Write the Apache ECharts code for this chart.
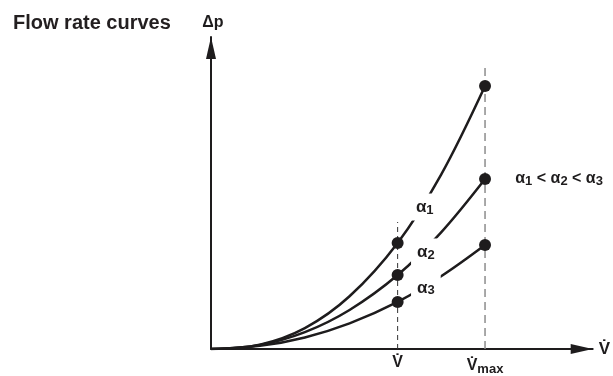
<!DOCTYPE html>
<html>
<head>
<meta charset="utf-8">
<script src="https://cdn.jsdelivr.net/npm/echarts@6/dist/echarts.min.js"></script>
<style>
  html, body { margin: 0; padding: 0; background: #fff; }
  #chart { width: 613px; height: 376px; }
</style>
</head>
<body>
<div id="chart"></div>
<script>
// flow (arbitrary units along the V axis)
const flow = [0, 12.8, 24.6, 36.3, 48.9, 60.3, 71.8];
// pressure drop for each damper angle
const alpha1 = [0, 1.4, 6.7, 16.9, 34.0, 55.9, 84.3];
const alpha2 = [0, 1.3, 5.4, 12.5, 23.7, 37.4, 54.5];
const alpha3 = [0, 1.0, 3.7, 8.2, 15.1, 23.3, 33.3];
// operating flow and maximum flow
const vFlow = 48.9;
const vMax = 71.8;
const vTop = 40.7;
const vMaxTop = 91;
// curve labels [x, y, text]
const curveLabels = [
  [56.0, 45.5, '{a|α}{s|1}'],
  [56.3, 31.1, '{a|α}{s|2}'],
  [56.3, 19.6, '{a|α}{s|3}']
];
const orderLabel = [91.2, 54.5];

const ink = '#1e1c1d';
const font = 'Liberation Sans, Arial, Helvetica, sans-serif';

function pairs(ys) {
  return flow.map((x, i) => [x, ys[i]]);
}

const dots = [];
[alpha1, alpha2, alpha3].forEach((ys) => {
  dots.push([vFlow, ys[4]]);
  dots.push([vMax, ys[6]]);
});

const curveStyle = { color: ink, width: 2.5 };

const chart = echarts.init(document.getElementById('chart'));
chart.setOption({
  animation: false,
  title: {
    text: 'Flow rate curves',
    left: 8,
    top: 8,
    textStyle: { fontFamily: font, fontSize: 20, fontWeight: 'bold', color: '#231f20' }
  },
  grid: { left: 211, right: 16, top: 37, bottom: 27 },
  xAxis: {
    type: 'value',
    min: 0,
    max: 100,
    name: 'V̇',
    nameLocation: 'end',
    nameGap: 6,
    nameTextStyle: { fontFamily: font, fontSize: 17, fontWeight: 'bold', color: ink },
    splitLine: { show: false },
    axisTick: { show: false },
    axisLine: {
      lineStyle: { color: ink, width: 2 },
      symbol: ['none', 'triangle'],
      symbolSize: [10, 22],
      symbolOffset: [0, -11]
    },
    axisLabel: {
      customValues: [vFlow, vMax],
      margin: 6,
      formatter: (v) => (v === vFlow ? '{v|V̇}' : '{v|V̇}{s|max}'),
      rich: {
        v: { fontFamily: font, fontSize: 16, fontWeight: 'bold', color: ink },
        s: { fontFamily: font, fontSize: 13, fontWeight: 'bold', color: ink, padding: [8, 0, 0, 0] }
      }
    }
  },
  yAxis: {
    type: 'value',
    min: 0,
    max: 100,
    name: 'Δp',
    nameLocation: 'end',
    nameGap: 6,
    nameTextStyle: { fontFamily: font, fontSize: 16, fontWeight: 'bold', color: ink, align: 'center', padding: [0, 0, 0, 4] },
    splitLine: { show: false },
    axisTick: { show: false },
    axisLabel: { show: false },
    axisLine: {
      lineStyle: { color: ink, width: 2 },
      symbol: ['none', 'triangle'],
      symbolSize: [10, 22],
      symbolOffset: [0, -11]
    }
  },
  series: [
    {
      type: 'line',
      data: [[vFlow, 0], [vFlow, vTop]],
      showSymbol: false,
      lineStyle: { color: '#333', width: 1, type: [5, 4] },
      z: 1
    },
    {
      type: 'line',
      data: [[vMax, 0], [vMax, vMaxTop]],
      showSymbol: false,
      lineStyle: { color: '#8c8c8c', width: 1.5, type: [8, 5] },
      z: 1
    },
    { type: 'line', data: pairs(alpha1), smooth: 0.35, showSymbol: false, lineStyle: curveStyle, z: 2 },
    { type: 'line', data: pairs(alpha2), smooth: 0.35, showSymbol: false, lineStyle: curveStyle, z: 2 },
    { type: 'line', data: pairs(alpha3), smooth: 0.35, showSymbol: false, lineStyle: curveStyle, z: 2 },
    {
      type: 'scatter',
      data: dots,
      symbolSize: 12,
      itemStyle: { color: ink, opacity: 1 },
      z: 4
    },
    {
      type: 'scatter',
      data: curveLabels.map((d) => ({ value: [d[0], d[1]], name: d[2] })),
      symbolSize: 0,
      clip: false,
      z: 5,
      itemStyle: { opacity: 1 },
      label: {
        show: true,
        position: 'inside',
        formatter: (p) => p.name,
        backgroundColor: '#fff',
        padding: [4, 6, 4, 6],
        rich: {
          a: { fontFamily: font, fontSize: 17, fontWeight: 'bold', color: ink },
          s: { fontFamily: font, fontSize: 13, fontWeight: 'bold', color: ink, padding: [6, 0, 0, 0] }
        }
      }
    },
    {
      type: 'scatter',
      data: [orderLabel],
      symbolSize: 0,
      clip: false,
      z: 5,
      itemStyle: { opacity: 1 },
      label: {
        show: true,
        position: 'inside',
        formatter: '{a|α}{s|1}{a| < α}{s|2}{a| < α}{s|3}',
        rich: {
          a: { fontFamily: font, fontSize: 16, fontWeight: 'bold', color: ink },
          s: { fontFamily: font, fontSize: 13, fontWeight: 'bold', color: ink, padding: [5, 0, 0, 0] }
        }
      }
    }
  ]
});
</script>
</body>
</html>
